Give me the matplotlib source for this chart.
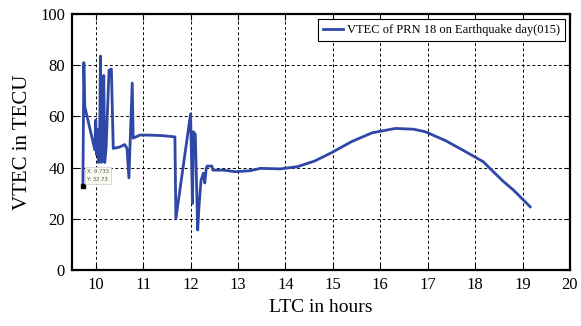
import matplotlib
matplotlib.use("Agg")
import matplotlib.pyplot as plt

ltc_hours = [9.73, 9.75, 9.77, 9.98, 10.0, 10.02, 10.04, 10.06, 10.08,
             10.1, 10.12, 10.14, 10.17, 10.19, 10.22, 10.28, 10.33, 10.37, 10.5,
             10.61, 10.66, 10.7, 10.73, 10.77, 10.79, 10.93, 11.1, 11.4, 11.67,
             11.69, 12.0, 12.04, 12.06, 12.1, 12.15, 12.18, 12.22, 12.27, 12.3,
             12.33, 12.35, 12.45, 12.47, 12.7, 12.94, 13.26, 13.47, 13.9, 14.26,
             14.62, 14.97, 15.4, 15.83, 16.32, 16.7, 16.95, 17.38, 17.8, 18.17,
             18.35, 18.6, 18.81, 19.16]
vtec = [32.7, 81, 63.8, 47, 58.6, 45, 55, 42, 48,
        83.6, 42, 50, 76, 42, 48, 78, 78.5, 47.5, 48,
        49, 47.5, 36, 52, 73, 51.5, 52.7, 52.7, 52.5, 52,
        20, 61, 26, 54, 53, 15.6, 25.4, 35, 37.8, 34,
        39.7, 40.6, 40.6, 39, 39, 38.4, 38.8, 39.7, 39.5, 40.4,
        42.6, 45.8, 50.2, 53.6, 55.3, 55, 54, 50.5, 46.2, 42.3,
        39, 34.5, 31.2, 24.7]
x_ticks = [10, 11, 12, 13, 14, 15, 16, 17, 18, 19, 20]
y_ticks = [0, 20, 40, 60, 80, 100]
series_label = "VTEC of PRN 18 on Earthquake day(015)"
tip_x, tip_y = 9.733, 32.73

plt.rcParams['font.family'] = ['Liberation Serif', 'DejaVu Serif']

fig = plt.figure(figsize=(5.81, 3.26), dpi=100)
ax = fig.add_axes([72/581, 56/326, 498/581, 256/326])

ax.plot(ltc_hours, vtec, color='#2f47a6', lw=2.0, label=series_label)
ax.plot([tip_x], [tip_y], marker='s', color='black', ms=3, ls='none')
ax.annotate(f"X: {tip_x}\nY: {tip_y}", xy=(tip_x, tip_y), xytext=(3, 4),
            textcoords='offset points', fontsize=3.8, color='#555555',
            family='DejaVu Sans', linespacing=1.6,
            bbox=dict(boxstyle='square,pad=0.4', fc='#fbfbf0', ec='#cccccc', lw=0.5))

ax.set_xlim(9.5, 20)
ax.set_ylim(0, 100)
ax.set_xticks(x_ticks)
ax.set_yticks(y_ticks)
ax.grid(True, color='black', ls=(0, (3, 2.5)), lw=0.7)
ax.tick_params(direction='in', top=True, right=True, labelsize=12, length=4, width=0.8, pad=5)
for s in ax.spines.values():
    s.set_linewidth(1.6)

ax.set_xlabel("LTC in hours", fontsize=14, labelpad=4)
ax.set_ylabel("VTEC in TECU", fontsize=15, labelpad=6)

leg = ax.legend(loc='upper right', fontsize=9, handlelength=1.6, handletextpad=0.3,
                borderaxespad=0.4, fancybox=False, framealpha=1, borderpad=0.4)
leg.get_frame().set_edgecolor('black')
leg.get_frame().set_linewidth(0.8)

fig.savefig("out.png", dpi=100)
